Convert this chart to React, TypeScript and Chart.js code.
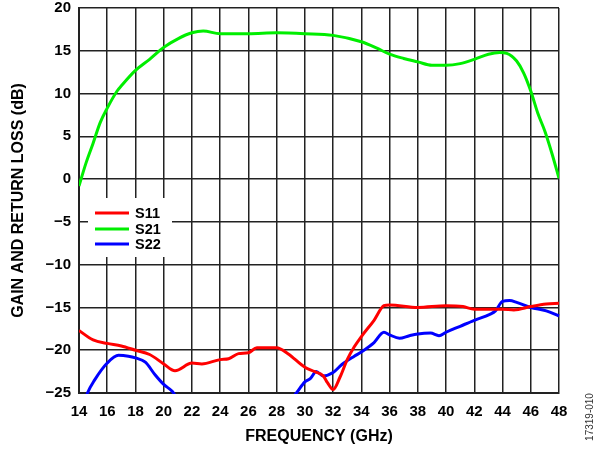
import { useEffect, useRef } from "react";
import { Chart, registerables } from "chart.js";

Chart.register(...registerables);

// readings taken off the plot (GHz, dB)
const s21Freq = [14, 14.5, 15, 15.5, 16, 16.7, 17, 18, 19, 20, 21, 22, 22.8, 24, 26, 28, 30, 32, 34, 35.1, 36, 37, 38, 39, 40, 41, 42, 43, 43.8, 44.3, 45, 45.5, 46, 46.5, 47, 47.5, 48];
const s21Gain = [-0.8, 1.9, 4.2, 6.6, 8.3, 10.3, 10.9, 12.7, 14.0, 15.4, 16.4, 17.1, 17.3, 17.0, 17.0, 17.1, 17.0, 16.8, 16.05, 15.3, 14.6, 14.1, 13.7, 13.3, 13.3, 13.5, 14.0, 14.6, 14.8, 14.7, 13.8, 12.4, 10.3, 7.7, 5.6, 3.0, 0.1];

const s11Freq = [14, 15, 16, 17, 18, 19, 20, 20.8, 22, 22.7, 24, 24.6, 25.3, 26, 26.6, 28, 28.8, 30, 30.7, 31.3, 31.6, 32, 32.5, 33, 33.5, 34, 34.9, 35.6, 36, 38, 40, 41.2, 42, 44, 44.8, 46, 47.1, 48];
const s11Loss = [-17.7, -18.8, -19.2, -19.5, -20.0, -20.5, -21.6, -22.4, -21.5, -21.6, -21.1, -21.0, -20.4, -20.3, -19.7, -19.7, -20.4, -22.0, -22.5, -23.0, -23.8, -24.6, -23.1, -21.1, -19.6, -18.4, -16.5, -14.8, -14.7, -15.0, -14.8, -14.9, -15.2, -15.2, -15.3, -14.9, -14.6, -14.5];

// S22 drops below the -25 dB floor between ~21 and ~29 GHz
const s22Freq = [14.4, 14.6, 15.1, 16, 16.8, 17.5, 18, 18.7, 19.4, 20, 20.6, 20.9, 25, 29.1, 29.4, 30, 30.4, 30.8, 31.3, 32, 32.6, 33.5, 34, 34.9, 35.6, 36, 36.7, 37.4, 38, 38.9, 39.5, 40, 41, 42, 43.1, 43.5, 44, 44.5, 45, 46, 47.1, 48];
const s22Loss = [-26, -25, -23.5, -21.5, -20.6, -20.7, -20.9, -21.4, -22.9, -24.0, -24.8, -25.5, null, -25.6, -25, -23.7, -23.3, -22.5, -23.0, -22.6, -21.7, -20.7, -20.2, -19.1, -17.9, -18.2, -18.6, -18.3, -18.1, -18.0, -18.3, -17.9, -17.2, -16.5, -15.8, -15.4, -14.3, -14.2, -14.4, -15.0, -15.4, -16.0];

const seriesNames = ["S11", "S21", "S22"];
const seriesColors = ["#ff0000", "#00ee00", "#0000ff"];

const FONT = '"Liberation Sans", Arial, sans-serif';

const toPoints = (xs: number[], ys: (number | null)[]) => xs.map((x, i) => ({ x, y: ys[i] }));

const fmtDb = (v: number) => (v < 0 ? "\u2212" + Math.abs(v) : String(v));

// legend box sitting on top of the grid, plus the figure number on the right edge
const extras = {
  id: "extras",
  afterDatasetsDraw(chart: any) {
    const ctx = chart.ctx as CanvasRenderingContext2D;
    ctx.save();
    ctx.fillStyle = "#fff";
    ctx.fillRect(88, 198, 84, 59);
    const rows = [213, 229, 244];
    seriesNames.forEach((name, i) => {
      ctx.strokeStyle = seriesColors[i];
      ctx.lineWidth = 3;
      ctx.beginPath();
      ctx.moveTo(95, rows[i]);
      ctx.lineTo(129, rows[i]);
      ctx.stroke();
      ctx.fillStyle = "#000";
      ctx.font = "bold 14.5px " + FONT;
      ctx.textBaseline = "middle";
      ctx.fillText(name, 135, rows[i] + 0.5);
    });
    ctx.translate(590, 417);
    ctx.rotate(-Math.PI / 2);
    ctx.font = "10px " + FONT;
    ctx.textAlign = "center";
    ctx.textBaseline = "middle";
    ctx.fillStyle = "#333";
    ctx.fillText("17319-010", 0, 0);
    ctx.restore();
  },
};

export default function App() {
  const canvasRef = useRef<HTMLCanvasElement>(null);

  useEffect(() => {
    if (!canvasRef.current) return;
    const chart = new Chart(canvasRef.current, {
      type: "line",
      data: {
        datasets: [
          { label: seriesNames[0], data: toPoints(s11Freq, s11Loss), borderColor: seriesColors[0] },
          { label: seriesNames[1], data: toPoints(s21Freq, s21Gain), borderColor: seriesColors[1] },
          { label: seriesNames[2], data: toPoints(s22Freq, s22Loss), borderColor: seriesColors[2], clip: 1 },
        ],
      },
      options: {
        animation: false,
        responsive: true,
        maintainAspectRatio: false,
        layout: { padding: { left: 0, right: 36, top: 8, bottom: 0 } },
        elements: {
          point: { radius: 0 },
          line: { borderWidth: 3, cubicInterpolationMode: "monotone" },
        },
        plugins: { legend: { display: false }, tooltip: { enabled: false } },
        scales: {
          x: {
            type: "linear",
            min: 14,
            max: 48,
            afterFit: (s: any) => { s.height = 57; },
            ticks: { stepSize: 2, padding: 10, color: "#000", font: { family: FONT, size: 15, weight: "bold" } },
            grid: { color: "#222", lineWidth: 1.5, drawTicks: false },
            border: { color: "#222", width: 2 },
            title: { display: true, text: "FREQUENCY (GHz)", color: "#000", font: { family: FONT, size: 16, weight: "bold" }, padding: { top: 0, bottom: 4 } },
          },
          y: {
            min: -25,
            max: 20,
            afterFit: (s: any) => {
              s.width = 79;
              s.paddingTop = 0;
              s.paddingBottom = 0;
            },
            ticks: { stepSize: 5, padding: 8, color: "#000", callback: (v: any) => fmtDb(Number(v)), font: { family: FONT, size: 15, weight: "bold" } },
            grid: { color: "#222", lineWidth: 1.5, drawTicks: false },
            border: { color: "#222", width: 2 },
            title: { display: true, text: "GAIN AND RETURN LOSS (dB)", color: "#000", font: { family: FONT, size: 16, weight: "bold" }, padding: { top: 9, bottom: 0 } },
          },
        },
      },
      plugins: [extras],
    });
    return () => chart.destroy();
  }, []);

  return (
    <div style={{ position: "fixed", left: 0, top: 0, width: 595, height: 450, background: "#fff" }}>
      <canvas ref={canvasRef} />
    </div>
  );
}
